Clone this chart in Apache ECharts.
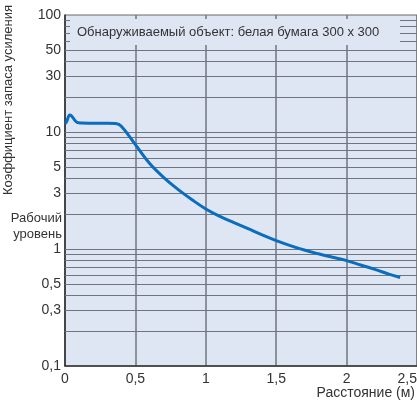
<!DOCTYPE html>
<html><head><meta charset="utf-8">
<script src="https://cdn.jsdelivr.net/npm/echarts@6/dist/echarts.min.js"></script>
<style>html,body{margin:0;padding:0;background:#fff}#c{width:417px;height:400px}</style>
</head><body><div id="c"></div>
<script>
const distance = [0, 0.012, 0.035, 0.094, 0.2, 0.3, 0.36, 0.4, 0.5, 0.6, 0.7, 0.8, 0.9, 1.0, 1.1, 1.2, 1.3, 1.4, 1.5, 1.6, 1.7, 1.8, 1.9, 2.0, 2.1, 2.2, 2.3, 2.38];
const gain = [11.8, 12.3, 14.0, 12.0, 11.9, 11.9, 11.8, 11.2, 7.8, 5.4, 4.1, 3.25, 2.65, 2.2, 1.9, 1.68, 1.49, 1.32, 1.18, 1.07, 0.98, 0.91, 0.85, 0.795, 0.73, 0.67, 0.61, 0.57];
const yLabelValues = [0.1, 0.3, 0.5, 1, 3, 5, 10, 30, 50, 100];
const yGridValues = [0.2,0.3,0.4,0.5,0.6,0.7,0.8,0.9,1,2,3,4,5,6,7,8,9,10,20,30,40,50,60,70,80,90];
const xTicks = [0, 0.5, 1, 1.5, 2, 2.5];
const noteText = 'Обнаруживаемый объект: белая бумага 300 x 300';
const yName = 'Коэффициент запаса усиления';
const xName = 'Расстояние (м)';
const levelText = ['Рабочий', 'уровень'];

const fmt = v => String(v).replace('.', ',');
const chart = echarts.init(document.getElementById('c'));
chart.setOption({
  animation: false,
  grid: {left: 65, right: 0, top: 15, bottom: 34, outerBoundsMode: 'none', containLabel: false, show: true, backgroundColor: '#dfe6f3', borderColor: '#666', borderWidth: 1},
  xAxis: {
    type: 'value', min: 0, max: 2.5, interval: 0.5,
    axisLine: {show: true, lineStyle: {color: '#333', width: 1.5}},
    axisTick: {show: false},
    splitLine: {show: true, lineStyle: {color: '#6f7480', width: 1.5}},
    axisLabel: {color: '#333', fontSize: 14, fontFamily: 'Liberation Sans', margin: 6, alignMaxLabel: 'right', formatter: v => fmt(v)}
  },
  yAxis: {
    type: 'log', logBase: 10, min: 0.1, max: 100,
    axisLine: {show: true, lineStyle: {color: '#333', width: 1.5}},
    axisTick: {show: false},
    splitLine: {show: false},
    axisLabel: {color: '#333', fontSize: 14, fontFamily: 'Liberation Sans', margin: 4, customValues: yLabelValues, formatter: v => fmt(v)}
  },
  graphic: [
    {type: 'rect', z: 100, shape: {x: 70, y: 19, width: 330, height: 26}, style: {fill: '#dfe6f3'}},
    {type: 'text', z: 101, x: 77, y: 32, style: {text: noteText, fill: '#333', font: '13px "Liberation Sans"', verticalAlign: 'middle'}},
    {type: 'text', z: 101, x: 8, y: 100, rotation: Math.PI / 2, style: {text: yName, fill: '#333', font: '13px "Liberation Sans"', align: 'center', verticalAlign: 'middle'}},
    {type: 'text', z: 101, x: 62, y: 218, style: {text: levelText[0], fill: '#333', font: '13px "Liberation Sans"', align: 'right', verticalAlign: 'middle'}},
    {type: 'text', z: 101, x: 62, y: 234, style: {text: levelText[1], fill: '#333', font: '13px "Liberation Sans"', align: 'right', verticalAlign: 'middle'}},
    {type: 'text', z: 101, x: 415, y: 393, style: {text: xName, fill: '#333', font: '14px "Liberation Sans"', align: 'right', verticalAlign: 'middle'}}
  ],
  series: [{
    type: 'line', smooth: 0.4, showSymbol: false, symbol: 'none',
    data: distance.map((d, i) => [d, gain[i]]),
    lineStyle: {color: '#0b6dbd', width: 3},
    z: 5,
    markLine: {
      silent: true, symbol: 'none', label: {show: false},
      lineStyle: {color: '#6f7480', width: 1, type: 'solid'},
      data: yGridValues.map(v => ({yAxis: v}))
    }
  }]
});
</script></body></html>
